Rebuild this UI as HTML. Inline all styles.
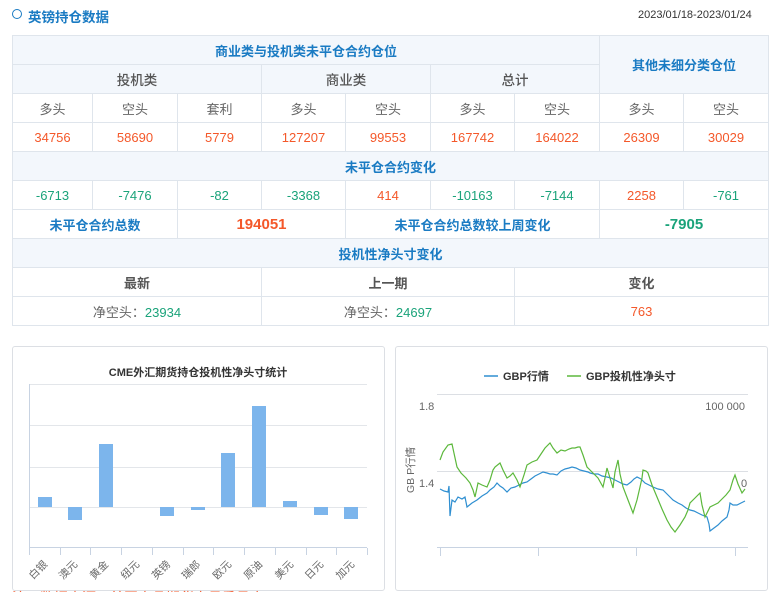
<!DOCTYPE html>
<html><head><meta charset="utf-8"><style>
body{margin:0;width:784px;height:592px;overflow:hidden;background:#fff;font-family:"Liberation Sans","Noto Sans CJK SC",sans-serif;position:relative}
.t{position:absolute}
table{position:absolute;left:12px;top:35px;border-collapse:collapse;table-layout:fixed}
td{border:1px solid #dfe5ec;text-align:center;height:28px;padding:0;font-size:13px;color:#666}
.h{background:#f3f7fc;color:#1a7bc3;font-weight:bold}
.g{background:#f3f7fc;color:#555;font-size:13.5px;font-weight:500}
.o{color:#f4582a}.gr{color:#1aa37a}
.b{font-weight:bold;color:#1a7bc3}
.box{position:absolute;border:1px solid #dcdfe4;border-radius:3px}
</style></head><body>
<div class="t" style="left:12px;top:9px;width:8px;height:8px;border:1.5px solid #1a7bc3;border-radius:50%"></div>
<div class="t" style="left:28px;top:6px;font-size:13.5px;font-weight:bold;color:#1a7bc3">英镑持仓数据</div>
<div class="t" style="left:638px;top:9px;font-size:11px;color:#333">2023/01/18-2023/01/24</div>
<table>
<colgroup><col style="width:80px"><col style="width:85px"><col style="width:84px"><col style="width:84px"><col style="width:85px"><col style="width:84px"><col style="width:85px"><col style="width:84px"><col style="width:85px"></colgroup>
<tr><td class="h" colspan="7">商业类与投机类未平仓合约仓位</td><td class="h" colspan="2" rowspan="2">其他未细分类仓位</td></tr>
<tr><td class="g" colspan="3">投机类</td><td class="g" colspan="2">商业类</td><td class="g" colspan="2">总计</td></tr>
<tr><td>多头</td><td>空头</td><td>套利</td><td>多头</td><td>空头</td><td>多头</td><td>空头</td><td>多头</td><td>空头</td></tr>
<tr class="o"><td class="o">34756</td><td class="o">58690</td><td class="o">5779</td><td class="o">127207</td><td class="o">99553</td><td class="o">167742</td><td class="o">164022</td><td class="o">26309</td><td class="o">30029</td></tr>
<tr><td class="h" colspan="9">未平仓合约变化</td></tr>
<tr><td class="gr">-6713</td><td class="gr">-7476</td><td class="gr">-82</td><td class="gr">-3368</td><td class="o">414</td><td class="gr">-10163</td><td class="gr">-7144</td><td class="o">2258</td><td class="gr">-761</td></tr>
<tr><td class="b" colspan="2">未平仓合约总数</td><td colspan="2" class="o" style="font-weight:bold;font-size:15px">194051</td><td class="b" colspan="3">未平仓合约总数较上周变化</td><td colspan="2" class="gr" style="font-weight:bold;font-size:15px">-7905</td></tr>
<tr><td class="h" colspan="9">投机性净头寸变化</td></tr>
<tr><td colspan="3" style="font-weight:bold;color:#555">最新</td><td colspan="3" style="font-weight:bold;color:#555">上一期</td><td colspan="3" style="font-weight:bold;color:#555">变化</td></tr>
<tr><td colspan="3">净空头：<span class="gr">23934</span></td><td colspan="3">净空头：<span class="gr">24697</span></td><td colspan="3" class="o">763</td></tr>
</table>

<div class="box" style="left:12px;top:346px;width:371px;height:243px"></div>
<div class="box" style="left:395px;top:346px;width:371px;height:243px"></div>

<svg class="t" style="left:0;top:0" width="784" height="592" font-family="Liberation Sans,Noto Sans CJK SC,sans-serif">
<text x="198" y="376" text-anchor="middle" font-size="11" font-weight="bold" fill="#333">CME外汇期货持仓投机性净头寸统计</text>
<g stroke="#e3e6ea" stroke-width="1">
<line x1="30" y1="384.5" x2="367" y2="384.5"/><line x1="30" y1="425.5" x2="367" y2="425.5"/><line x1="30" y1="467.5" x2="367" y2="467.5"/><line x1="30" y1="507.5" x2="367" y2="507.5"/>
</g>
<line x1="30" y1="547.5" x2="367" y2="547.5" stroke="#c8d3e2"/>
<line x1="29.5" y1="384" x2="29.5" y2="548" stroke="#c8d3e2"/>
<g stroke="#c8d3e2"><line x1="29.5" y1="548" x2="29.5" y2="555"/><line x1="60.5" y1="548" x2="60.5" y2="555"/><line x1="90.5" y1="548" x2="90.5" y2="555"/><line x1="121.5" y1="548" x2="121.5" y2="555"/><line x1="152.5" y1="548" x2="152.5" y2="555"/><line x1="183.5" y1="548" x2="183.5" y2="555"/><line x1="213.5" y1="548" x2="213.5" y2="555"/><line x1="244.5" y1="548" x2="244.5" y2="555"/><line x1="275.5" y1="548" x2="275.5" y2="555"/><line x1="306.5" y1="548" x2="306.5" y2="555"/><line x1="336.5" y1="548" x2="336.5" y2="555"/><line x1="367.5" y1="548" x2="367.5" y2="555"/></g>
<g fill="#7cb5ec">
<rect x="38" y="497" width="14" height="10"/><rect x="68" y="507" width="14" height="13"/><rect x="99" y="444" width="14" height="63"/><rect x="160" y="507" width="14" height="9"/><rect x="191" y="507" width="14" height="3"/><rect x="221" y="453" width="14" height="54"/><rect x="252" y="406" width="14" height="101"/><rect x="283" y="501" width="14" height="6"/><rect x="314" y="507" width="14" height="8"/><rect x="344" y="507" width="14" height="12"/>
</g>
<g font-size="10.5" fill="#666" text-anchor="end">
<text transform="translate(48,565) rotate(-45)">白银</text><text transform="translate(78,565) rotate(-45)">澳元</text><text transform="translate(109,565) rotate(-45)">黄金</text><text transform="translate(140,565) rotate(-45)">纽元</text><text transform="translate(171,565) rotate(-45)">英镑</text><text transform="translate(201,565) rotate(-45)">瑞郎</text><text transform="translate(232,565) rotate(-45)">欧元</text><text transform="translate(263,565) rotate(-45)">原油</text><text transform="translate(294,565) rotate(-45)">美元</text><text transform="translate(324,565) rotate(-45)">日元</text><text transform="translate(355,565) rotate(-45)">加元</text>
</g>
<text x="12" y="603" font-size="14" fill="#f4582a">注：数据来源于美国商品期货交易委员会(CFTC)</text>

<line x1="484" y1="376" x2="498" y2="376" stroke="#2f8fd1" stroke-width="1.5"/>
<text x="503" y="380" font-size="11" font-weight="bold" fill="#333">GBP行情</text>
<line x1="567" y1="376" x2="581" y2="376" stroke="#5cb83c" stroke-width="1.5"/>
<text x="586" y="380" font-size="11" font-weight="bold" fill="#333">GBP投机性净头寸</text>
<line x1="437" y1="394.5" x2="748" y2="394.5" stroke="#dcdfe4"/>
<line x1="437" y1="471.5" x2="748" y2="471.5" stroke="#dcdfe4"/>
<line x1="437" y1="547.5" x2="748" y2="547.5" stroke="#c8d3e2"/>
<g stroke="#c8d3e2"><line x1="440.5" y1="548" x2="440.5" y2="556"/><line x1="538.5" y1="548" x2="538.5" y2="556"/><line x1="636.5" y1="548" x2="636.5" y2="556"/><line x1="735.5" y1="548" x2="735.5" y2="556"/></g>
<g font-size="11" fill="#666">
<text x="419" y="410">1.8</text><text x="419" y="487">1.4</text>
<text x="745" y="410" text-anchor="end">100 000</text><text x="741" y="487">0</text>
<text transform="translate(414,493) rotate(-90)" font-size="10.5">GB P行情</text>
</g>
<polyline fill="none" stroke="#2f8fd1" stroke-width="1.2" points="440,489 444,491 448,492 449,486 450,516 452,500 455,502 458,497 462,499 465,497 467,507 472,503 477,500 482,496 487,493 490,490 494,487 497,483 500,486 503,488 507,492 511,488 515,487 519,485 523,483 527,482 531,479 535,476 539,474 543,472 547,473 550,474 553,474 557,475 561,471 565,469 569,468 572,467 576,468 580,470 584,471 588,472 590,473 594,474 598,474 602,476 607,477 611,478 615,480 619,482 623,484 627,485 631,482 634,479 637,477 641,479 645,483 649,485 653,487 658,489 663,490 666,493 669,496 673,500 678,503 682,505 686,508 690,510 694,511 698,513 702,515 707,517 709,524 710,531 714,528 718,525 722,521 727,517 729,510 730,503 733,505 737,505 741,503 745,501"/>
<polyline fill="none" stroke="#5cb83c" stroke-width="1.2" points="440,460 443,452 448,445 452,444 457,467 461,473 466,478 470,483 473,490 475,497 478,483 482,485 487,487 490,480 493,470 495,467 500,463 503,470 507,478 510,476 513,473 517,480 520,487 524,475 527,465 532,462 537,460 541,454 545,448 550,443 553,448 557,453 561,450 565,451 569,449 572,448 575,448 578,447 580,447 583,455 587,467 590,470 593,473 598,478 603,487 605,478 607,468 610,478 613,488 615,472 618,460 620,474 623,487 628,500 633,513 637,500 640,487 642,478 643,470 646,471 648,473 652,485 657,497 662,509 667,520 671,527 675,532 680,525 685,517 688,510 690,503 695,498 700,493 702,505 705,517 708,511 710,507 714,505 718,503 722,499 726,495 730,490 733,480 735,475 738,484 742,493 745,489"/>
</svg>
</body></html>
